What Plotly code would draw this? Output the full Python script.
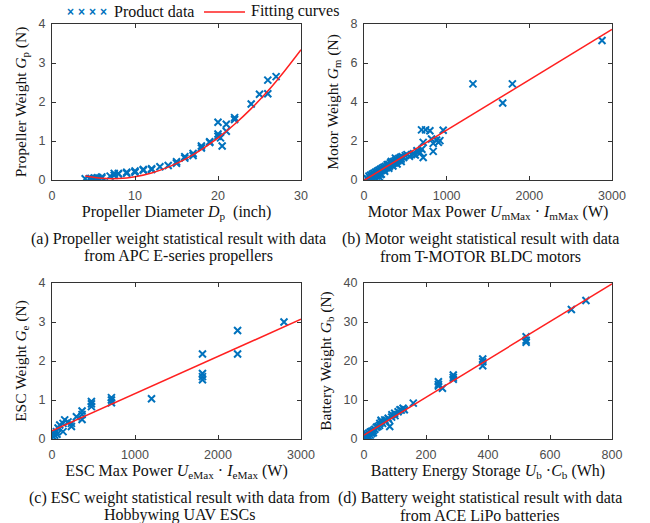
import plotly.graph_objects as go

# ---------------- data ----------------
# (a) propellers: diameter (inch) vs weight (N)
prop_d = [4.0, 4.5, 4.7, 5.0, 5.1, 5.5, 5.5, 6.0, 6.0, 7.0, 7.5, 7.5, 8.0, 8.0, 9.0, 9.0,
          10.0, 10.0, 11.0, 11.0, 12.0, 12.0, 13.0, 14.0, 15.0, 15.0, 16.0, 16.0, 17.0, 17.0,
          18.0, 18.0, 19.0, 19.0, 20.0, 20.0, 20.0, 20.3, 20.5, 21.0, 21.0, 22.0, 22.0,
          24.0, 25.0, 26.0, 26.0, 27.0]
prop_w = [0.03, 0.03, 0.04, 0.03, 0.05, 0.04, 0.06, 0.05, 0.08, 0.10, 0.12, 0.17, 0.15, 0.17, 0.20, 0.17,
          0.20, 0.23, 0.27, 0.25, 0.29, 0.27, 0.34, 0.37, 0.47, 0.43, 0.56, 0.60, 0.63, 0.68,
          0.87, 0.82, 0.98, 0.96, 1.48, 1.12, 1.18, 1.08, 0.87, 1.25, 1.43, 1.60, 1.55,
          1.95, 2.20, 2.56, 2.21, 2.65]
prop_fit_d = [4, 6, 8, 10, 12, 14, 16, 18, 20, 22, 24, 26, 28, 30]
prop_fit_w = [0.10, 0.044, 0.038, 0.083, 0.18, 0.33, 0.53, 0.78, 1.08, 1.43, 1.83, 2.28, 2.79, 3.34]

# (b) motors: max power (W) vs weight (N)
motor_p = [30, 45, 60, 70, 80, 95, 100, 110, 120, 130, 140, 150, 160, 170, 180, 185, 190, 200, 210,
           220, 230, 240, 250, 260, 270, 280, 290, 300, 310, 320, 330, 340, 350, 360, 370, 380,
           390, 400, 410, 420, 430, 440, 450, 460, 480, 500, 520, 100, 150, 200, 250, 300, 350,
           400, 450, 170, 210, 330, 380,
           550, 575, 600, 620, 640, 650, 680, 700, 696, 745, 797, 716, 716, 817, 878, 918, 899,
           837, 837, 958, 1318, 1795, 1678, 2879]
motor_w = [0.10, 0.05, 0.20, 0.12, 0.25, 0.18, 0.30, 0.22, 0.35, 0.28, 0.40, 0.30, 0.45, 0.38, 0.50,
           0.15, 0.42, 0.55, 0.48, 0.60, 0.52, 0.65, 0.58, 0.70, 0.62, 0.78, 0.70, 0.80, 0.72, 0.88,
           0.78, 0.90, 0.85, 0.95, 0.88, 1.00, 0.92, 1.05, 0.98, 1.10, 1.02, 1.15, 1.08, 1.20,
           1.15, 1.25, 1.30, 0.10, 0.20, 0.28, 0.45, 0.60, 0.72, 0.82, 0.95, 0.29, 0.30, 0.95, 1.12,
           1.22, 1.30, 1.35, 1.28, 1.50, 1.45, 1.40, 1.58, 2.57, 2.57, 2.53, 1.93, 1.15, 2.10,
           2.05, 2.02, 1.93, 1.88, 1.47, 2.55, 4.93, 4.93, 3.95, 7.15]
motor_fit_p = [0, 3000]
motor_fit_w = [-0.02, 7.72]

# (c) ESCs: max power (W) vs weight (N)
esc_p = [12, 33, 53, 73, 93, 133, 133, 153, 193, 234, 234, 294, 362, 362, 362,
         475, 475, 475, 716, 716, 716, 1199, 1813, 1813, 1813, 1813, 2236, 2236, 2795, 20, 60]
esc_w = [0.15, 0.10, 0.19, 0.28, 0.36, 0.40, 0.19, 0.49, 0.44, 0.40, 0.32, 0.57, 0.72, 0.63, 0.50,
         0.96, 0.90, 0.83, 1.06, 1.00, 0.93, 1.03, 2.18, 1.68, 1.60, 1.52, 2.78, 2.18, 3.00, 0.05, 0.12]
esc_fit_p = [0, 3000]
esc_fit_w = [0.21, 3.07]

# (d) batteries: energy storage (Wh) vs weight (N)
batt_e = [2, 5, 8, 10, 12, 15, 15, 20, 20, 25, 25, 30, 30, 35, 40, 45, 50, 51, 55, 56, 60, 67,
          70, 78, 80, 89, 90, 99, 100, 110, 116, 120, 126, 130, 83, 159,
          240, 240, 240, 253, 288, 288, 288, 383, 383, 383, 523, 523, 523, 669, 716]
batt_w = [0.5, 1.0, 0.3, 1.2, 0.8, 1.5, 0.6, 1.8, 1.0, 2.0, 1.4, 2.2, 1.6, 2.5, 3.0, 3.2, 3.5, 4.0,
          4.8, 4.4, 4.0, 4.9, 4.5, 5.3, 5.0, 5.6, 6.2, 6.6, 6.0, 7.0, 7.5, 7.4, 7.9, 7.5, 3.2, 9.2,
          14.7, 14.0, 13.6, 13.0, 16.4, 15.8, 15.3, 20.5, 19.8, 18.8, 26.2, 25.3, 24.8, 33.2, 35.5]
batt_fit_e = [0, 800]
batt_fit_w = [1.0, 39.8]

# ---------------- figure ----------------
W, H = 650, 523
BLUE = "#0072BD"
RED = "#FF2020"
AX = "#333333"
SERIF = "Liberation Serif, Times New Roman"

def px(x):
    return x / W

def py(y):
    return 1 - y / H

panels = [
    dict(x=prop_d, y=prop_w, fx=prop_fit_d, fy=prop_fit_w, xd=(52, 301), yd=(24, 180),
         xr=[0, 30], yr=[0, 4], xt=[0, 10, 20, 30], yt=[0, 1, 2, 3, 4],
         xtitle="Propeller Diameter <i>D</i><sub>p</sub>  (inch)",
         ytitle="Propeller Weight <i>G</i><sub>p</sub> (N)"),
    dict(x=motor_p, y=motor_w, fx=motor_fit_p, fy=motor_fit_w, xd=(364, 612), yd=(24, 180),
         xr=[0, 3000], yr=[0, 8], xt=[0, 1000, 2000, 3000], yt=[0, 2, 4, 6, 8],
         xtitle="Motor Max Power <i>U</i><sub>mMax</sub> · <i>I</i><sub>mMax</sub> (W)",
         ytitle="Motor Weight <i>G</i><sub>m</sub> (N)"),
    dict(x=esc_p, y=esc_w, fx=esc_fit_p, fy=esc_fit_w, xd=(52, 301), yd=(283, 439),
         xr=[0, 3000], yr=[0, 4], xt=[0, 1000, 2000, 3000], yt=[0, 1, 2, 3, 4],
         xtitle="ESC Max Power <i>U</i><sub>eMax</sub> · <i>I</i><sub>eMax</sub> (W)",
         ytitle="ESC Weight <i>G</i><sub>e</sub> (N)"),
    dict(x=batt_e, y=batt_w, fx=batt_fit_e, fy=batt_fit_w, xd=(364, 612), yd=(283, 439),
         xr=[0, 800], yr=[0, 40], xt=[0, 200, 400, 600, 800], yt=[0, 10, 20, 30, 40],
         xtitle="Battery Energy Storage <i>U</i><sub>b</sub> ·<i>C</i><sub>b</sub> (Wh)",
         ytitle="Battery Weight <i>G</i><sub>b</sub> (N)"),
]

fig = go.Figure()
layout = dict(
    width=W, height=H, margin=dict(l=0, r=0, t=0, b=0),
    paper_bgcolor="white", plot_bgcolor="white", showlegend=False,
)

for i, p in enumerate(panels, start=1):
    xa = "x" if i == 1 else f"x{i}"
    ya = "y" if i == 1 else f"y{i}"
    fig.add_trace(go.Scatter(
        x=p["x"], y=p["y"], mode="markers", xaxis=xa, yaxis=ya,
        marker=dict(symbol="x-thin", size=7, color=BLUE, line=dict(width=2, color=BLUE)),
    ))
    fig.add_trace(go.Scatter(
        x=p["fx"], y=p["fy"], mode="lines", xaxis=xa, yaxis=ya,
        line=dict(color=RED, width=1.5, shape="spline" if i == 1 else "linear"),
    ))
    common = dict(showgrid=False, zeroline=False, showline=True, linecolor=AX, linewidth=1,
                  mirror="ticks", ticks="inside", ticklen=4, tickcolor=AX, automargin=False,
                  tickfont=dict(family="Liberation Sans, Arial", size=12.5, color="#4d4d4d"))
    layout["xaxis" if i == 1 else f"xaxis{i}"] = dict(
        common, domain=[px(p["xd"][0]), px(p["xd"][1])], range=p["xr"], tickvals=p["xt"],
        anchor=ya, ticklabelstandoff=4,
        title=dict(text=p["xtitle"], standoff=3,
                   font=dict(family=SERIF, size=16, color="#111")),
    )
    layout["yaxis" if i == 1 else f"yaxis{i}"] = dict(
        common, domain=[py(p["yd"][1]), py(p["yd"][0])], range=p["yr"], tickvals=p["yt"],
        anchor=xa, ticklabelstandoff=3,
        title=dict(text=p["ytitle"], standoff=8,
                   font=dict(family=SERIF, size=15.5, color="#111")),
    )

fig.update_layout(**layout)

serif = dict(family=SERIF, size=16, color="#111")
captions = [
    (178, 239, "(a) Propeller weight statistical result with data"),
    (178, 256, "from APC E-series propellers"),
    (480, 239, "(b) Motor weight statistical result with data"),
    (480, 256, "from T-MOTOR BLDC motors"),
    (179, 498, "(c) ESC weight statistical result with data from"),
    (179, 515, "Hobbywing UAV ESCs"),
    (480, 498, "(d) Battery weight statistical result with data"),
    (480, 515, "from ACE LiPo batteries"),
]
for cx, cy, txt in captions:
    fig.add_annotation(x=px(cx), y=py(cy), xref="paper", yref="paper", text=txt,
                       showarrow=False, font=serif, align="center", yanchor="middle",
                       xanchor="center")

# legend (drawn manually, MATLAB style)
for lx in (70, 81, 92, 103):
    fig.add_annotation(x=px(lx), y=py(12), xref="paper", yref="paper",
                       text="<b>×</b>", showarrow=False, xanchor="center", yanchor="middle",
                       font=dict(family="Liberation Sans", size=12, color=BLUE))
fig.add_annotation(x=px(112), y=py(11), xref="paper", yref="paper", text="Product data",
                   showarrow=False, xanchor="left", yanchor="middle", font=serif)
fig.add_shape(type="line", xref="paper", yref="paper", x0=px(204), x1=px(245), y0=py(12), y1=py(12),
              line=dict(color=RED, width=1.5))
fig.add_annotation(x=px(249), y=py(11), xref="paper", yref="paper", text="Fitting curves",
                   showarrow=False, xanchor="left", yanchor="middle", font=serif)

fig.write_html("out.html", config={"displayModeBar": False},
               post_script="document.body.style.margin='0';")
